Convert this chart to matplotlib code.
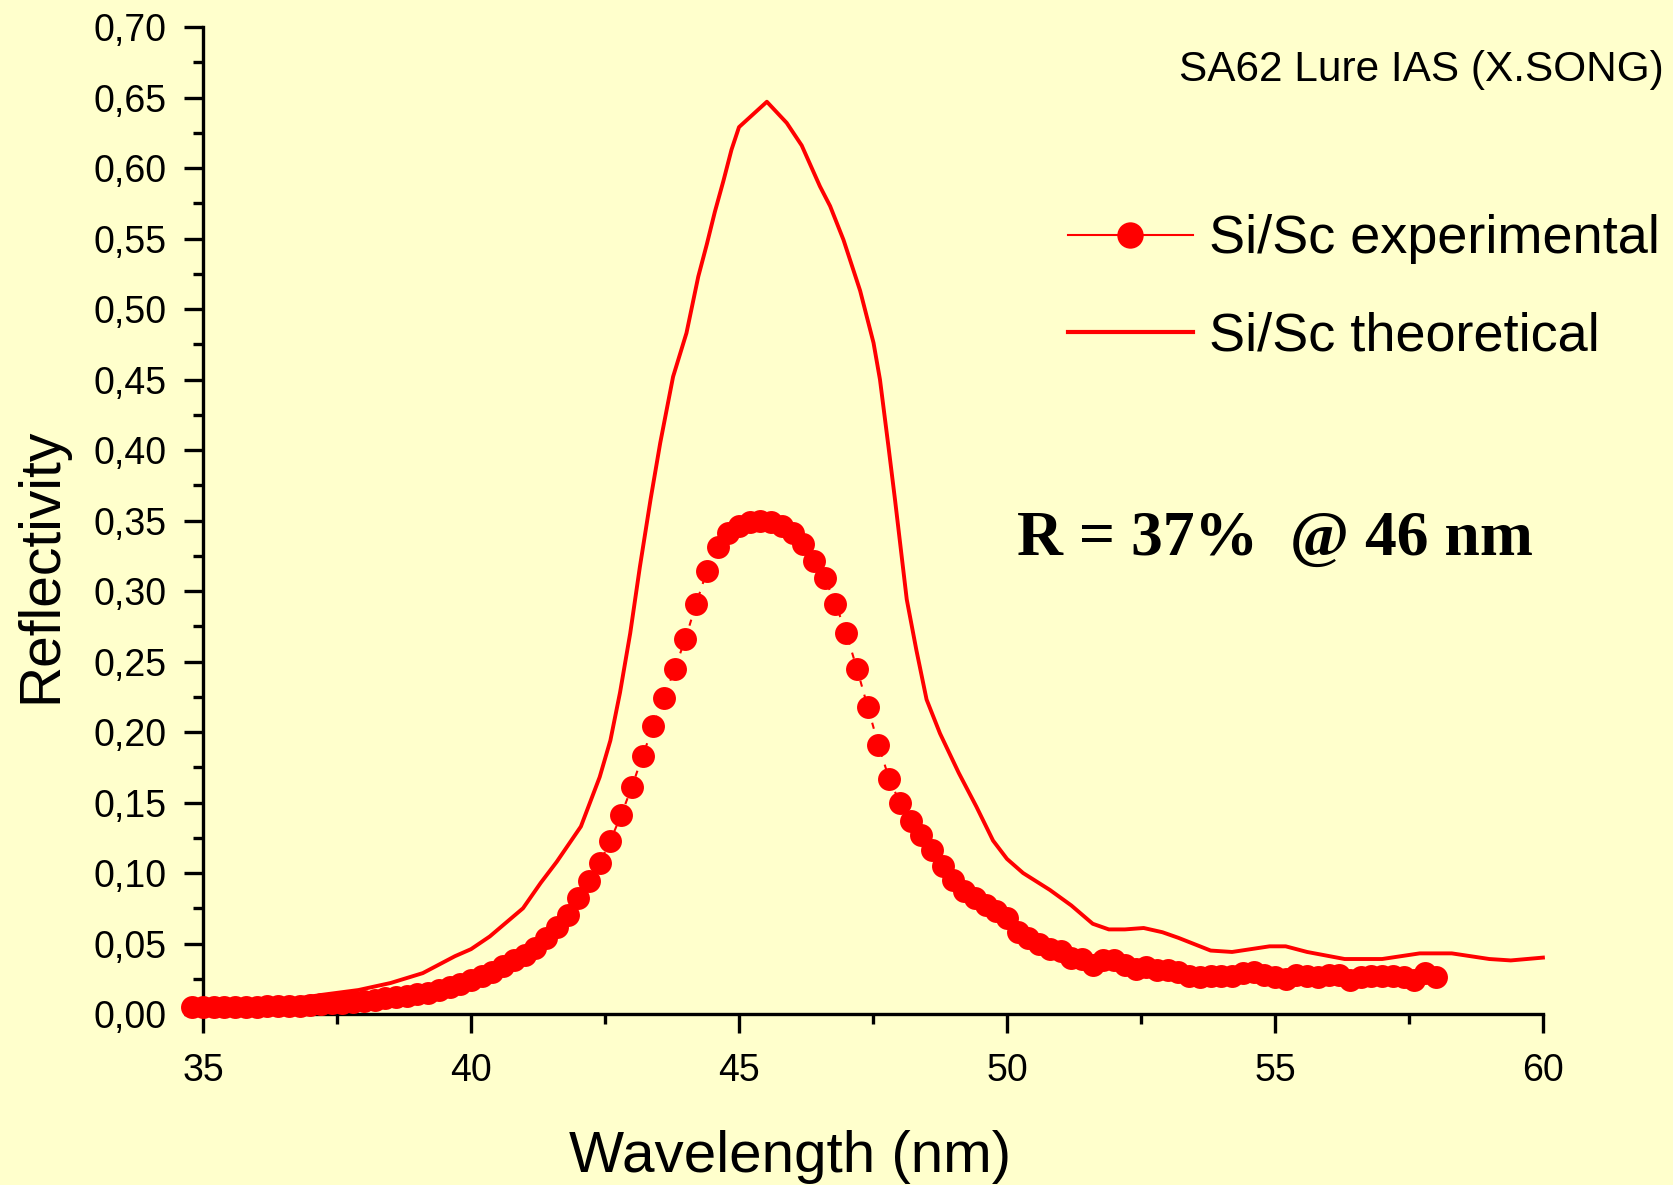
import matplotlib
matplotlib.use("Agg")
import matplotlib.pyplot as plt
from matplotlib.lines import Line2D
from matplotlib.ticker import MultipleLocator, FuncFormatter

plt.rcParams['font.family'] = ['Liberation Sans', 'DejaVu Sans']

# experimental points (nm, reflectivity)
wl_exp = [34.8, 35.0, 35.2, 35.4, 35.6, 35.8, 36.0, 36.2, 36.4, 36.6, 36.8,
          37.0, 37.2, 37.4, 37.6, 37.8, 38.0, 38.2, 38.4, 38.6, 38.8,
          39.0, 39.2, 39.4, 39.6, 39.8, 40.0, 40.2, 40.4, 40.6, 40.8,
          41.0, 41.2, 41.4, 41.6, 41.8, 42.0, 42.2, 42.4, 42.6, 42.8,
          43.0, 43.2, 43.4, 43.6, 43.8, 44.0, 44.2, 44.4, 44.6, 44.8,
          45.0, 45.2, 45.4, 45.6, 45.8, 46.0, 46.2, 46.4, 46.6, 46.8,
          47.0, 47.2, 47.4, 47.6, 47.8, 48.0, 48.2, 48.4, 48.6, 48.8,
          49.0, 49.2, 49.4, 49.6, 49.8, 50.0, 50.2, 50.4, 50.6, 50.8,
          51.0, 51.2, 51.4, 51.6, 51.8, 52.0, 52.2, 52.4, 52.6, 52.8,
          53.0, 53.2, 53.4, 53.6, 53.8, 54.0, 54.2, 54.4, 54.6, 54.8,
          55.0, 55.2, 55.4, 55.6, 55.8, 56.0, 56.2, 56.4, 56.6, 56.8,
          57.0, 57.2, 57.4, 57.6, 57.8, 58.0]
r_exp = [0.005, 0.005, 0.005, 0.005, 0.005, 0.005, 0.005, 0.0055, 0.0055, 0.006, 0.006,
         0.0065, 0.007, 0.0075, 0.008, 0.0085, 0.009, 0.010, 0.011, 0.012, 0.013,
         0.014, 0.015, 0.017, 0.019, 0.021, 0.024, 0.027, 0.030, 0.034, 0.038,
         0.042, 0.047, 0.054, 0.062, 0.070, 0.082, 0.094, 0.107, 0.123, 0.141,
         0.161, 0.183, 0.204, 0.224, 0.245, 0.266, 0.291, 0.314, 0.331, 0.341,
         0.346, 0.349, 0.350, 0.349, 0.346, 0.341, 0.333, 0.321, 0.309, 0.291,
         0.270, 0.245, 0.218, 0.191, 0.167, 0.150, 0.137, 0.127, 0.116, 0.105,
         0.095, 0.087, 0.082, 0.077, 0.073, 0.068, 0.058, 0.054, 0.050, 0.046,
         0.045, 0.040, 0.039, 0.035, 0.038, 0.038, 0.035, 0.032, 0.033, 0.031,
         0.031, 0.030, 0.027, 0.026, 0.027, 0.027, 0.027, 0.029, 0.030, 0.028,
         0.026, 0.025, 0.028, 0.027, 0.026, 0.028, 0.028, 0.024, 0.026, 0.027,
         0.027, 0.027, 0.026, 0.024, 0.029, 0.026]

# theoretical curve
wl_th = [35.0, 35.5, 36.0, 36.6, 37.2, 37.9, 38.5, 39.1, 39.7, 40.0, 40.35,
         40.97, 41.3, 41.6, 42.05, 42.4, 42.6, 42.78, 42.97, 43.15, 43.35,
         43.53, 43.77, 44.02, 44.24, 44.4, 44.55, 44.71, 44.86, 45.0, 45.52,
         45.89, 46.17, 46.51, 46.7, 46.95, 47.26, 47.51, 47.63, 47.79, 47.91,
         48.13, 48.31, 48.5, 48.75, 49.1, 49.43, 49.74, 50.0, 50.3, 50.8,
         51.2, 51.6, 51.9, 52.2, 52.55, 52.9, 53.2, 53.8, 54.2, 54.9,
         55.2, 55.6, 56.3, 57.0, 57.7, 58.3, 59.0, 59.4, 60.0]
r_th = [0.006, 0.0065, 0.0078, 0.010, 0.0135, 0.017, 0.022, 0.029, 0.041, 0.046, 0.055,
        0.075, 0.093, 0.108, 0.133, 0.168, 0.194, 0.228, 0.270, 0.317, 0.365,
        0.405, 0.452, 0.483, 0.523, 0.546, 0.569, 0.591, 0.613, 0.629, 0.647,
        0.632, 0.616, 0.587, 0.573, 0.549, 0.513, 0.476, 0.450, 0.402, 0.365,
        0.294, 0.258, 0.223, 0.199, 0.171, 0.147, 0.123, 0.110, 0.100, 0.088,
        0.077, 0.064, 0.060, 0.060, 0.061, 0.058, 0.054, 0.045, 0.044, 0.048,
        0.048, 0.044, 0.039, 0.039, 0.043, 0.043, 0.039, 0.038, 0.040]

bg = '#FFFFCC'
red = '#FF0000'

fig = plt.figure(figsize=(16.74, 11.85), dpi=100, facecolor=bg)
ax = fig.add_axes([0.1213, 0.1443, 0.8004, 0.8329])
ax.set_facecolor(bg)

ax.plot(wl_th, r_th, color=red, lw=2.8, clip_on=False, zorder=2)
ax.plot(wl_exp, r_exp, color=red, lw=1.5, linestyle=(0, (3, 4)),
        marker='o', markersize=16.5, markeredgewidth=0, clip_on=False, zorder=3)

ax.set_xlim(35, 60)
ax.set_ylim(0, 0.70)
for s in ['top', 'right']:
    ax.spines[s].set_visible(False)
for s in ['left', 'bottom']:
    ax.spines[s].set_linewidth(2.4)

ax.xaxis.set_major_locator(MultipleLocator(5))
ax.xaxis.set_minor_locator(MultipleLocator(2.5))
ax.yaxis.set_major_locator(MultipleLocator(0.05))
ax.yaxis.set_minor_locator(MultipleLocator(0.025))
ax.yaxis.set_major_formatter(FuncFormatter(lambda v, p: ('%.2f' % v).replace('.', ',')))
ax.xaxis.set_major_formatter(FuncFormatter(lambda v, p: '%d' % v))
ax.tick_params(which='major', direction='out', length=14, width=2.4, labelsize=27)
ax.tick_params(which='minor', direction='out', length=7, width=2.4)
ax.tick_params(axis='y', which='major', pad=12)
ax.tick_params(axis='x', which='major', pad=14)

fig.text(0.472, 0.011, 'Wavelength (nm)', fontsize=42, ha='center', va='baseline')
fig.text(0.0249, 0.523, 'Reflectivity', fontsize=41, rotation=90, ha='center', va='center')
fig.text(0.9936, 0.932, 'SA62 Lure IAS (X.SONG)', fontsize=30.5, ha='right', va='baseline')
fig.text(0.6075, 0.5316, 'R = 37%  @ 46 nm', fontsize=45.8, fontweight='bold',
         family=['Liberation Serif', 'DejaVu Serif'], ha='left', va='baseline')

handles = [Line2D([], [], color=red, lw=1.5, marker='o', markersize=19, markeredgewidth=0),
           Line2D([], [], color=red, lw=3)]
fig.legend(handles, ['Si/Sc experimental', 'Si/Sc theoretical'], loc='upper left',
           bbox_to_anchor=(0.638, 0.819), frameon=False, fontsize=39, borderpad=0,
           borderaxespad=0, handlelength=2.3, handletextpad=0.3, labelspacing=0.87)

fig.savefig('out.png', dpi=100, facecolor=bg)
